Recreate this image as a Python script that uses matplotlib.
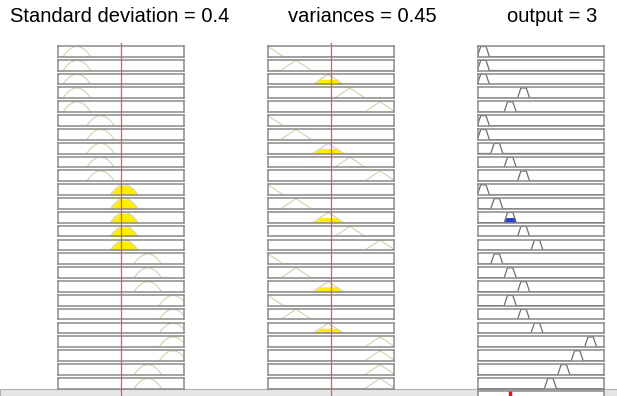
import numpy as np
import matplotlib
matplotlib.use("Agg")
import matplotlib.pyplot as plt
from matplotlib.patches import Rectangle

plt.rcParams['font.family'] = ['Liberation Sans', 'DejaVu Sans']

# inputs / output of the rule viewer
std_value = 0.4
var_value = 0.45
out_value = 3

std_range = [0.0, 0.8]
var_range = [0.0, 0.9]
out_range = [0.6, 10.0]

# membership function centres
std_centers = [0.12, 0.27, 0.42, 0.57, 0.73]
var_centers = [0.0, 0.20, 0.43, 0.585, 0.80]
out_centers = [1, 2, 3, 4, 5, 6, 7, 8, 9]

# which MF each of the 25 rules uses (1-based)
std_mf = [1, 1, 1, 1, 1, 2, 2, 2, 2, 2, 3, 3, 3, 3, 3,
          4, 4, 4, 5, 5, 5, 5, 5, 4, 4]
var_mf = [1, 2, 3, 4, 5, 1, 2, 3, 4, 5, 1, 2, 3, 4, 5,
          1, 2, 3, 1, 2, 3, 5, 5, 5, 5]
out_mf = [1, 1, 1, 4, 3, 1, 1, 2, 3, 4, 1, 2, 3, 4, 5,
          2, 3, 4, 3, 4, 5, 9, 8, 7, 6]

# clipping heights of the filled (fired) shapes
std_fill = 0.92
var_fill = 0.5

titles = ["Standard deviation = 0.4", "variances = 0.45", "output = 3"]


def dome(x, c, w=0.088):
    return np.clip(1 - ((x - c) / w) ** 2, 0, None)


def tri(x, c, w=0.11):
    return np.clip(1 - np.abs(x - c) / w, 0, None)


def trap(x, c):
    return np.clip(np.minimum((x - (c - 0.45)) / 0.25, ((c + 0.45) - x) / 0.25), 0, 1)


W, H = 617, 396
fig = plt.figure(figsize=(W / 100, H / 100), dpi=100)
fig.patch.set_facecolor('white')

col_x = [58, 268, 478]
title_x = [120, 362, 552]
box_w = 126
top0 = 46
pitch = 13.83
box_h = 10.7

edge = '#8a8a8a'
mf_col = '#d6d6b4'
out_col = '#6e6e6e'
yellow = '#ffee00'
blue = '#2a3bd0'
red = '#ff4a5a'


def add_box(x, top, h):
    ax = fig.add_axes([x / W, 1 - (top + h) / H, box_w / W, h / H])
    ax.set_xticks([])
    ax.set_yticks([])
    for s in ax.spines.values():
        s.set_color(edge)
        s.set_linewidth(1.1)
    return ax


# light grey strip at the bottom of the window
fig.patches.append(Rectangle((0, 0), 1, 7.5 / H, transform=fig.transFigure,
                             facecolor='#e6e6e6', edgecolor='#b0b0b0', lw=0.8, zorder=-1))

for i in range(25):
    top = top0 + i * pitch

    # standard deviation
    ax = add_box(col_x[0], top, box_h)
    x = np.linspace(std_range[0], std_range[1], 400)
    c = std_centers[std_mf[i] - 1]
    y = dome(x, c)
    if dome(np.array(std_value), c) > 0:
        ax.fill_between(x, 0, np.minimum(y, std_fill), where=y > 0, color=yellow, lw=0)
    ax.plot(x[y > 0], y[y > 0], color=mf_col, lw=0.9)
    ax.set_xlim(std_range)
    ax.set_ylim(0, 1.05)

    # variances
    ax = add_box(col_x[1], top, box_h)
    x = np.linspace(var_range[0], var_range[1], 400)
    c = var_centers[var_mf[i] - 1]
    y = tri(x, c)
    if tri(np.array(var_value), c) > 0:
        ax.fill_between(x, 0, np.minimum(y, var_fill), where=y > 0, color=yellow, lw=0)
    ax.plot(x, y, color=mf_col, lw=0.9)
    ax.set_xlim(var_range)
    ax.set_ylim(0, 1.05)

    # output
    ax = add_box(col_x[2], top, box_h)
    x = np.linspace(out_range[0], out_range[1], 600)
    c = out_centers[out_mf[i] - 1]
    y = trap(x, c)
    fired = (dome(np.array(std_value), std_centers[std_mf[i] - 1]) > 0 and
             tri(np.array(var_value), var_centers[var_mf[i] - 1]) > 0)
    if fired:
        ax.fill_between(x, 0, np.minimum(y, min(std_fill, var_fill)), where=y > 0,
                        color=blue, lw=0)
    ax.plot(x, y, color=out_col, lw=0.9)
    ax.set_xlim(out_range)
    ax.set_ylim(0, 1.05)

# aggregated output row (cut off by the window edge)
ax = add_box(col_x[2], top0 + 25 * pitch - 0.5, box_h)
ax.set_xlim(out_range)
ax.axvline(out_value, color='#e8101a', lw=2.5)

# red input lines over the first two columns
for k, (val, rng) in enumerate([(std_value, std_range), (var_value, var_range)]):
    ov = fig.add_axes([col_x[k] / W, 0, box_w / W, 1 - 43 / H])
    ov.set_xlim(rng)
    ov.axis('off')
    ov.patch.set_alpha(0)
    ov.axvline(val, color=red, lw=0.9)

for k, t in enumerate(titles):
    fig.text(title_x[k] / W, 1 - 17 / H, t, ha='center', va='center',
             fontsize=14.5, color='black')

fig.savefig('out.png', dpi=100)
